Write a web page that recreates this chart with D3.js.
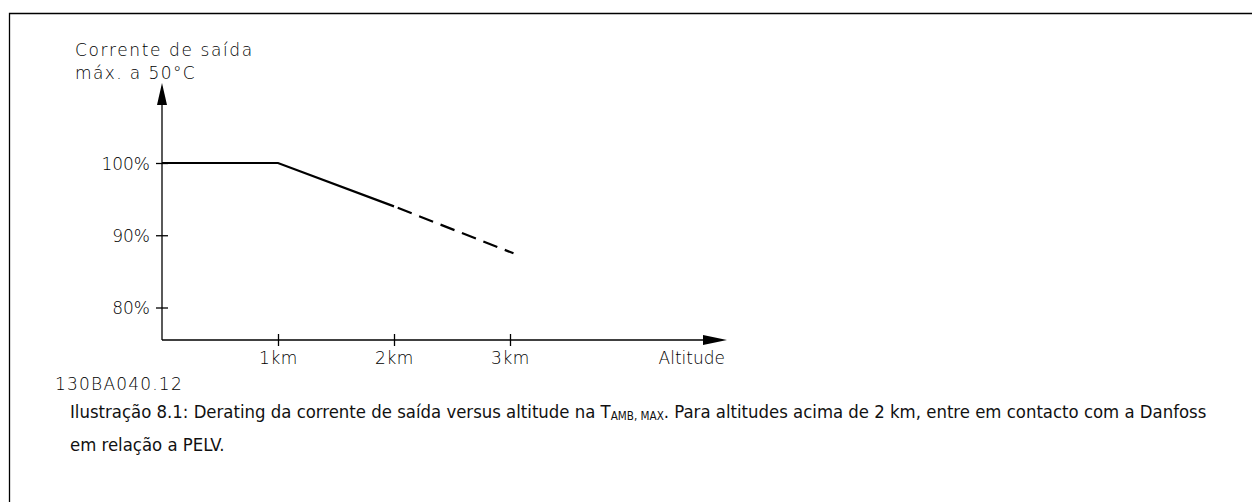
<!DOCTYPE html>
<html><head><meta charset="utf-8">
<script src="https://cdn.jsdelivr.net/npm/d3@7"></script>
<style>body{margin:0;background:#fff;overflow:hidden} svg{display:block}</style>
</head><body><svg id="c" width="1252" height="502"></svg>
<script>
// ---- data ----
const solidAlt = [0, 1, 2];
const solidPct = [100, 100, 94];
const dashedAlt = [2, 3.03];
const dashedPct = [94, 87.5];
const yTicks = [80, 90, 100];
const yTickLabels = ["80%", "90%", "100%"];
const xTicks = [1, 2, 3];
const xTickLabels = ["1km", "2km", "3km"];
const yTitleLines = ["Corrente de saída", "máx. a 50°C"];
const xTitle = "Altitude";
const drawingCode = "130BA040.12";
const captionLine1a = "Ilustração 8.1: Derating da corrente de saída versus altitude na T";
const captionSub = "AMB, MAX";
const captionLine1b = ". Para altitudes acima de 2 km, entre em contacto com a Danfoss";
const captionLine2 = "em relação a PELV.";

// ---- layout ----
const svg = d3.select("#c");
const cadFont = "'DejaVu Sans', sans-serif";
const capFont = "'DejaVu Sans Condensed', 'DejaVu Sans', sans-serif";
const x0 = 162, axisY = 340, yTop = 83, xEnd = 727;
const x = d3.scaleLinear().domain([0, 3]).range([x0, 510]);
const y = d3.scaleLinear().domain([80, 100]).range([307.5, 163]);

function cad(sel, size) {
  return sel.attr("font-family", cadFont).attr("font-size", size).attr("font-weight", 300).attr("fill", "#000");
}

// frame
svg.append("path").attr("d", "M9.5,502 V13.5 H1252").attr("fill", "none")
  .attr("stroke", "#000").attr("stroke-width", 1.3);

// axes lines
svg.append("line").attr("x1", x0).attr("x2", x0).attr("y1", axisY).attr("y2", yTop + 18)
  .attr("stroke", "#000").attr("stroke-width", 1.3);
svg.append("line").attr("x1", x0).attr("x2", xEnd - 20).attr("y1", axisY).attr("y2", axisY)
  .attr("stroke", "#000").attr("stroke-width", 1.3);
// arrowheads
svg.append("path").attr("d", `M${x0},${yTop} L${x0 - 5},${yTop + 22} L${x0 + 5},${yTop + 22} Z`).attr("fill", "#000");
svg.append("path").attr("d", `M${xEnd},${axisY} L${xEnd - 24},${axisY - 5} L${xEnd - 24},${axisY + 5} Z`).attr("fill", "#000");

// y axis ticks
const ya = svg.append("g").attr("transform", `translate(${x0},0)`)
  .call(d3.axisLeft(y).tickValues(yTicks).tickSize(6).tickPadding(6)
    .tickFormat(d => yTickLabels[yTicks.indexOf(d)]));
ya.select(".domain").remove();
ya.selectAll(".tick line").attr("x1", 6).attr("stroke", "#000").attr("stroke-width", 1.3);
cad(ya.selectAll(".tick text"), 17).attr("x", -12).attr("dy", "0.36em");

// x axis ticks
const xa = svg.append("g").attr("transform", `translate(0,${axisY})`)
  .call(d3.axisBottom(x).tickValues(xTicks).tickSize(6)
    .tickFormat(d => xTickLabels[xTicks.indexOf(d)]));
xa.select(".domain").remove();
xa.selectAll(".tick line").attr("y1", -6).attr("stroke", "#000").attr("stroke-width", 1.3);
cad(xa.selectAll(".tick text"), 17).attr("y", 24).attr("dy", 0).attr("letter-spacing", 0.6);

// lines
const line = d3.line().x(d => x(d[0])).y(d => y(d[1]));
svg.append("path").datum(d3.zip(solidAlt, solidPct)).attr("d", line)
  .attr("fill", "none").attr("stroke", "#000").attr("stroke-width", 2.2);
svg.append("path").datum(d3.zip(dashedAlt, dashedPct)).attr("d", line)
  .attr("fill", "none").attr("stroke", "#000").attr("stroke-width", 2.2)
  .attr("stroke-dasharray", "15,8").attr("stroke-dashoffset", 19);

// titles
cad(svg.append("text").attr("x", 75).attr("y", 56).text(yTitleLines[0]), 17).attr("letter-spacing", 1.6);
cad(svg.append("text").attr("x", 75).attr("y", 79).text(yTitleLines[1]), 17).attr("letter-spacing", 1.4);
cad(svg.append("text").attr("x", 725).attr("y", axisY + 24).attr("text-anchor", "end").text(xTitle), 17);
cad(svg.append("text").attr("x", 55).attr("y", 390).text(drawingCode), 17).attr("letter-spacing", 1.2);

// caption
const c1 = svg.append("text").attr("x", 70).attr("y", 418)
  .attr("font-family", capFont).attr("font-size", 15).attr("fill", "#111");
c1.append("tspan").text(captionLine1a);
c1.append("tspan").text(captionSub).attr("font-size", 9.5).attr("dy", 2);
c1.append("tspan").text(captionLine1b).attr("dy", -2);
const c2 = svg.append("text").attr("x", 70).attr("y", 451)
  .attr("font-family", capFont).attr("font-size", 15).attr("fill", "#111").text(captionLine2);
// fit caption line 1 to its width in the reference
const w = c1.node().getComputedTextLength();
const fs = 15 * 1138 / w;
c1.attr("font-size", fs); c1.select("tspan:nth-child(2)").attr("font-size", fs * 0.63);
c2.attr("font-size", fs);
</script></body></html>
